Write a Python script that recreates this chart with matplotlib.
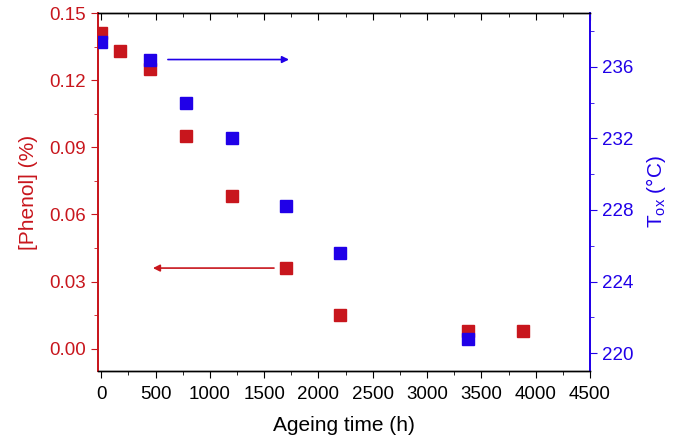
import matplotlib
matplotlib.use("Agg")
import matplotlib.pyplot as plt
from matplotlib.ticker import MultipleLocator, FormatStrFormatter

plt.rcParams['font.family'] = ['Liberation Sans', 'DejaVu Sans']

RED = '#c8161d'
BLUE = '#2000e8'

phenol_time = [0, 170, 450, 780, 1200, 1700, 2200, 3380, 3880]
phenol_val = [0.141, 0.133, 0.125, 0.095, 0.068, 0.036, 0.015, 0.008, 0.008]

tox_time = [0, 450, 780, 1200, 1700, 2200, 3380]
tox_val = [237.4, 236.4, 234.0, 232.0, 228.2, 225.6, 220.8]

fig = plt.figure(figsize=(6.83, 4.41), dpi=100)
ax = fig.add_axes([98/683, 1-371/441, (590-98)/683, (371-13)/441])
ax2 = ax.twinx()

ax.plot(phenol_time, phenol_val, 's', color=RED, markersize=8, zorder=3)
ax2.plot(tox_time, tox_val, 's', color=BLUE, markersize=8, zorder=3)

ax.set_xlim(-30, 4500)
ax.set_ylim(-0.01, 0.15)
ax2.set_ylim(219, 239)

ax.xaxis.set_major_locator(MultipleLocator(500))
ax.xaxis.set_minor_locator(MultipleLocator(250))
ax.yaxis.set_major_locator(MultipleLocator(0.03))
ax.yaxis.set_minor_locator(MultipleLocator(0.015))
ax.yaxis.set_major_formatter(FormatStrFormatter('%.2f'))
ax2.yaxis.set_major_locator(MultipleLocator(4))
ax2.yaxis.set_minor_locator(MultipleLocator(2))

ax.tick_params(axis='x', which='both', direction='out', labelsize=13.5, colors='black', pad=6)
ax.tick_params(axis='x', which='major', length=5)
ax.tick_params(axis='x', which='minor', length=3)
ax.tick_params(axis='y', which='both', direction='out', colors=RED, labelsize=13.5)
ax.tick_params(axis='y', which='major', length=5)
ax.tick_params(axis='y', which='minor', length=3)
ax2.tick_params(axis='y', which='both', direction='out', colors=BLUE, labelsize=13.5)
ax2.tick_params(axis='y', which='major', length=5)
ax2.tick_params(axis='y', which='minor', length=3)

top = ax.secondary_xaxis('top')
top.xaxis.set_major_locator(MultipleLocator(500))
top.xaxis.set_minor_locator(MultipleLocator(250))
top.tick_params(axis='x', which='both', direction='in', labeltop=False)
top.tick_params(axis='x', which='major', length=5)
top.tick_params(axis='x', which='minor', length=3)
top.spines['top'].set_visible(False)

for a in (ax, ax2):
    a.spines['left'].set_color(RED)
    a.spines['right'].set_color(BLUE)
    a.spines['left'].set_linewidth(1.3)
    a.spines['right'].set_linewidth(1.3)
    a.spines['top'].set_linewidth(1.0)
    a.spines['bottom'].set_linewidth(1.0)

ax.set_xlabel('Ageing time (h)', fontsize=15, labelpad=9)
ax.set_ylabel('[Phenol] (%)', fontsize=15, color=RED, labelpad=8)
ax2.set_ylabel(r'T$_{\mathregular{ox}}$ (°C)', fontsize=15, color=BLUE, labelpad=8)

ax2.annotate('', xy=(1754, 236.4), xytext=(588, 236.4),
             arrowprops=dict(arrowstyle='-|>', color=BLUE, lw=1.2, mutation_scale=10))
ax.annotate('', xy=(450, 0.036), xytext=(1616, 0.036),
            arrowprops=dict(arrowstyle='-|>', color=RED, lw=1.2, mutation_scale=10))

fig.savefig('out.png', dpi=100)
